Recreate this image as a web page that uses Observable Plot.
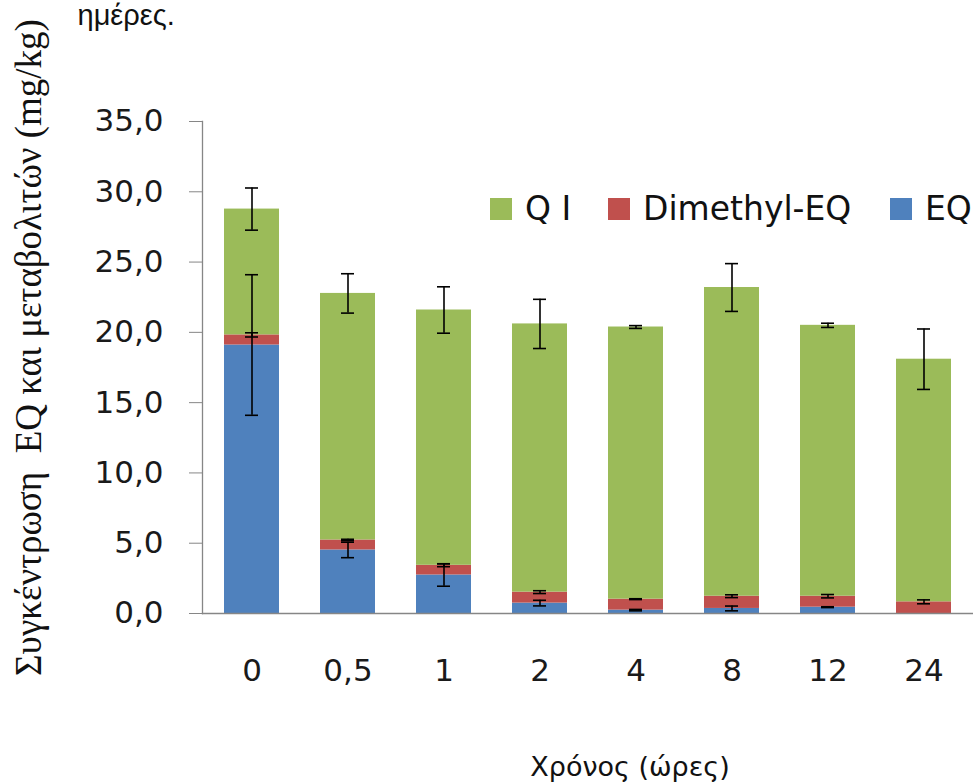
<!DOCTYPE html>
<html>
<head>
<meta charset="utf-8">
<script src="https://cdn.jsdelivr.net/npm/d3@7"></script>
<script src="https://cdn.jsdelivr.net/npm/@observablehq/plot@0.6"></script>
<style>
  body { margin: 0; background: #fff; }
  #wrap { position: relative; width: 973px; height: 782px; overflow: hidden; }
  #legend { position: absolute; top: 189px; left: 0; width: 973px; height: 36px;
            font-family: "DejaVu Sans", sans-serif; font-size: 33px; color: #111; }
  .item { position: absolute; top: 0; display: flex; align-items: center; white-space: nowrap; }
  .sw { width: 22px; height: 22px; margin-right: 13px; }
</style>
</head>
<body>
<div id="wrap"><div id="legend"></div></div>
<script>
// Time points (hours) as printed on the x axis
const times = ["0", "0,5", "1", "2", "4", "8", "12", "24"];
// Series (bottom to top of stack)
const seriesNames = ["EQ", "Dimethyl-EQ", "Q I"];
const seriesColors = ["#4F81BD", "#C0504D", "#9BBB59"];
// Mean concentrations (mg/kg)
const eqValues = [19.1, 4.52, 2.74, 0.74, 0.24, 0.36, 0.45, 0];
const dimethylValues = [0.72, 0.71, 0.69, 0.78, 0.78, 0.87, 0.78, 0.83];
const qiValues = [8.95, 17.54, 18.16, 19.08, 19.36, 21.96, 19.27, 17.26];
// Error bar half-lengths
const eqErrors = [5.0, 0.55, 0.8, 0.2, 0.05, 0.17, 0.03, 0];
const dimethylErrors = [0.15, 0.05, 0.1, 0.1, 0.03, 0.1, 0.12, 0.14];
const qiErrors = [1.5, 1.4, 1.65, 1.75, 0.1, 1.7, 0.15, 2.15];
// Axis ticks and labels
const yTicks = [0, 5, 10, 15, 20, 25, 30, 35];
const yLabel = ["Συγκέντρωση\u00a0 EQ και μεταβολιτών (mg/kg)"];
const xLabel = ["Χρόνος (ώρες)"];
const topText = ["ημέρες."];
const legendOrder = ["Q I", "Dimethyl-EQ", "EQ"];

const valueSets = [eqValues, dimethylValues, qiValues];
const errorSets = [eqErrors, dimethylErrors, qiErrors];

const rows = [];
seriesNames.forEach((s, si) => {
  times.forEach((t, ti) => rows.push({time: t, series: s, value: valueSets[si][ti]}));
});

const errRows = [];
times.forEach((t, ti) => {
  let cum = 0;
  seriesNames.forEach((s, si) => {
    cum += valueSets[si][ti];
    const e = errorSets[si][ti];
    if (valueSets[si][ti] > 0) errRows.push({time: t, lo: cum - e, hi: cum + e});
  });
});

const fmt = d => d.toFixed(1).replace(".", ",");

const chart = Plot.plot({
  width: 973,
  height: 782,
  marginLeft: 202,
  marginRight: 0,
  marginTop: 121,
  marginBottom: 169,
  style: {fontFamily: "DejaVu Sans", background: "white", overflow: "visible"},
  x: {domain: times, paddingInner: 0.43, paddingOuter: 0.215, label: null},
  y: {domain: [0, 35], label: null},
  color: {domain: seriesNames, range: seriesColors},
  marks: [
    Plot.barY(rows, {x: "time", y: "value", fill: "series", order: seriesNames}),
    Plot.ruleX(errRows, {x: "time", y1: "lo", y2: "hi", stroke: "#000", strokeWidth: 1.6}),
    Plot.tickY(errRows, {x: "time", y: "lo", stroke: "#000", strokeWidth: 1.6, insetLeft: 21, insetRight: 21}),
    Plot.tickY(errRows, {x: "time", y: "hi", stroke: "#000", strokeWidth: 1.6, insetLeft: 21, insetRight: 21}),
    Plot.frame({anchor: "left", stroke: "#868686", strokeWidth: 1.3}),
    Plot.frame({anchor: "bottom", stroke: "#868686", strokeWidth: 1.3}),
    Plot.axisY({ticks: yTicks, tickFormat: fmt, tickSize: 13, tickPadding: 26, fontSize: 31,
                stroke: "#868686", fill: "#1a1a1a", label: null}),
    Plot.axisX({tickSize: 0, tickPadding: 45, fontSize: 31, fill: "#1a1a1a", label: null}),
    Plot.text(yLabel, {frameAnchor: "left", rotate: -90, dx: -162, dy: -20, textAnchor: "middle",
                       lineAnchor: "bottom", fontFamily: "Liberation Serif", fontSize: 37, fill: "#111"}),
    Plot.text(xLabel, {frameAnchor: "bottom", dx: 42, dy: 162, textAnchor: "middle",
                       lineAnchor: "bottom", fontFamily: "DejaVu Sans", fontSize: 27, fill: "#111"}),
    Plot.text(topText, {frameAnchor: "top-left", dx: -125, dy: -97, textAnchor: "start",
                        lineAnchor: "bottom", fontFamily: "Liberation Sans", fontSize: 29, fill: "#111"})
  ]
});
const wrap = document.getElementById("wrap");
wrap.insertBefore(chart, wrap.firstChild);

// Legend
const legendLefts = [490, 608, 890];
const legend = document.getElementById("legend");
legendOrder.forEach((name, i) => {
  const item = document.createElement("div");
  item.className = "item";
  item.style.left = legendLefts[i] + "px";
  const sw = document.createElement("span");
  sw.className = "sw";
  sw.style.background = seriesColors[seriesNames.indexOf(name)];
  const lab = document.createElement("span");
  lab.textContent = name;
  item.appendChild(sw);
  item.appendChild(lab);
  legend.appendChild(item);
});
</script>
</body>
</html>
